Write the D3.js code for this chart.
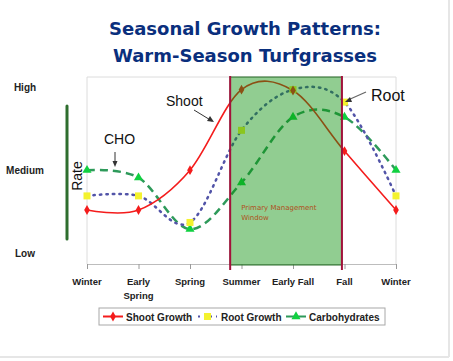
<!DOCTYPE html>
<html>
<head>
<meta charset="utf-8">
<script src="https://cdn.jsdelivr.net/npm/d3@7"></script>
<style>
  body { margin: 0; background: #fff; }
  svg { display: block; }
</style>
</head>
<body>
<svg id="chart" width="453" height="361"></svg>
<script>
// data
const seasons = ["Winter", "Early Spring", "Spring", "Summer", "Early Fall", "Fall", "Winter "];
const shootGrowth = [2.65, 2.65, 5.05, 9.9, 9.85, 6.2, 2.65];
const rootGrowth = [3.5, 3.5, 1.9, 7.45, 9.9, 9.15, 3.5];
const carbohydrates = [5.05, 4.6, 1.5, 4.3, 8.25, 8.25, 5.05];
const rateLabels = [{v: 0, t: "Low"}, {v: 5, t: "Medium"}, {v: 10, t: "High"}];
const windowSpan = [2.78, 4.95]; // in season index units

const svg = d3.select("#chart");

const x = d3.scalePoint().domain(seasons).range([87, 396]);
const xi = d3.scaleLinear().domain([0, seasons.length - 1]).range([87, 396]);
const y = d3.scaleLinear().domain([0, 10]).range([254, 88]);

// page edges
svg.append("line").attr("x1", 449).attr("x2", 449).attr("y1", 0).attr("y2", 357)
  .attr("stroke", "#e6e6e6").attr("stroke-width", 2);
svg.append("line").attr("x1", 0).attr("x2", 449).attr("y1", 357).attr("y2", 357)
  .attr("stroke", "#e6e6e6").attr("stroke-width", 2);

// title
svg.append("text")
  .attr("x", 245).attr("y", 35)
  .attr("text-anchor", "middle")
  .attr("font-family", "DejaVu Sans, Verdana, sans-serif")
  .attr("font-weight", "bold")
  .attr("font-size", 18)
  .attr("fill", "#0a2f7d")
  .text("Seasonal Growth Patterns:");
svg.append("text")
  .attr("x", 245).attr("y", 62)
  .attr("text-anchor", "middle")
  .attr("font-family", "DejaVu Sans, Verdana, sans-serif")
  .attr("font-weight", "bold")
  .attr("font-size", 18)
  .attr("fill", "#0a2f7d")
  .text("Warm-Season Turfgrasses");

// plot frame
svg.append("path")
  .attr("d", `M${x(seasons[0])},264 V77 H${x(seasons[6])} V264`)
  .attr("fill", "none")
  .attr("stroke", "#dcdcdc")
  .attr("stroke-width", 1);

// x axis
const xAxis = svg.append("g")
  .attr("transform", "translate(0,264)")
  .call(d3.axisBottom(x).tickSize(5).tickSizeOuter(0).tickFormat(""));
xAxis.select(".domain").attr("stroke", "#bdbdbd");
xAxis.selectAll(".tick line").attr("stroke", "#9a9a9a");

svg.append("g").selectAll("text")
  .data(seasons)
  .join("text")
  .attr("x", d => x(d))
  .attr("y", 285)
  .attr("text-anchor", "middle")
  .attr("font-family", "Liberation Sans, Arial, sans-serif")
  .attr("font-weight", "bold")
  .attr("font-size", 9.5)
  .attr("fill", "#222")
  .each(function(d) {
    const words = d.trim() === "Early Spring" ? ["Early", "Spring"] : [d.trim()];
    d3.select(this).selectAll("tspan")
      .data(words)
      .join("tspan")
      .attr("x", x(d))
      .attr("dy", (w, i) => i === 0 ? 0 : 13.5)
      .text(w => w);
  });

// y labels
svg.append("g").selectAll("text")
  .data(rateLabels)
  .join("text")
  .attr("x", 25)
  .attr("y", d => y(d.v) + 3)
  .attr("text-anchor", "middle")
  .attr("font-family", "Liberation Sans, Arial, sans-serif")
  .attr("font-weight", "bold")
  .attr("font-size", 10)
  .attr("fill", "#222")
  .text(d => d.t);

// rate bar
svg.append("line")
  .attr("x1", 67).attr("x2", 67).attr("y1", 106).attr("y2", 239)
  .attr("stroke", "#2e6e2e").attr("stroke-width", 3).attr("stroke-linecap", "round");
svg.append("text")
  .attr("transform", "translate(82,176) rotate(-90)")
  .attr("text-anchor", "middle")
  .attr("font-family", "Liberation Sans, Arial, sans-serif")
  .attr("font-size", 14)
  .attr("fill", "#111")
  .text("Rate");

// series
const line = d3.line()
  .x((d, i) => x(seasons[i]))
  .y(d => y(d))
  .curve(d3.curveCardinal.tension(0));

svg.append("path").datum(carbohydrates)
  .attr("d", line).attr("fill", "none")
  .attr("stroke", "#2e9a5a").attr("stroke-width", 2.5)
  .attr("stroke-dasharray", "8 5");
svg.append("path").datum(rootGrowth)
  .attr("d", line).attr("fill", "none")
  .attr("stroke", "#5254a8").attr("stroke-width", 2.5)
  .attr("stroke-dasharray", "1.5 5").attr("stroke-linecap", "round");
svg.append("path").datum(shootGrowth)
  .attr("d", line).attr("fill", "none")
  .attr("stroke", "#f41c1c").attr("stroke-width", 1.6);

const diamond = d3.symbol().type(d3.symbolDiamond).size(28);
const tri = d3.symbol().type(d3.symbolTriangle).size(36);

svg.append("g").selectAll("path")
  .data(carbohydrates)
  .join("path")
  .attr("transform", (d, i) => `translate(${x(seasons[i])},${y(d)})`)
  .attr("d", tri)
  .attr("fill", "#10d040");
svg.append("g").selectAll("rect")
  .data(rootGrowth)
  .join("rect")
  .attr("x", (d, i) => x(seasons[i]) - 3.5)
  .attr("y", d => y(d) - 3.5)
  .attr("width", 7).attr("height", 7)
  .attr("fill", "#f4f22e");
svg.append("g").selectAll("path")
  .data(shootGrowth)
  .join("path")
  .attr("transform", (d, i) => `translate(${x(seasons[i])},${y(d)})`)
  .attr("d", diamond)
  .attr("fill", "#f41c1c");

// management window
svg.append("rect")
  .attr("x", xi(windowSpan[0]))
  .attr("y", 77)
  .attr("width", xi(windowSpan[1]) - xi(windowSpan[0]))
  .attr("height", 188)
  .attr("fill", "rgb(10,145,10)")
  .attr("fill-opacity", 0.45)
  .attr("stroke", "#2f6e2f")
  .attr("stroke-width", 1);
svg.append("g").selectAll("line")
  .data(windowSpan)
  .join("line")
  .attr("x1", d => xi(d)).attr("x2", d => xi(d))
  .attr("y1", 76).attr("y2", 270)
  .attr("stroke", "#a3123c").attr("stroke-width", 2);

svg.append("text")
  .attr("x", xi(windowSpan[0]) + 11)
  .attr("y", 210)
  .attr("font-family", "DejaVu Sans, Verdana, sans-serif")
  .attr("font-size", 7)
  .attr("fill", "#b0501c")
  .selectAll("tspan")
  .data(["Primary Management", "Window"])
  .join("tspan")
  .attr("x", xi(windowSpan[0]) + 11)
  .attr("dy", (d, i) => i === 0 ? 0 : 10)
  .text(d => d);

// annotations
const annFont = "Liberation Sans, Arial, sans-serif";
svg.append("text").attr("x", 166).attr("y", 106)
  .attr("font-family", annFont).attr("font-size", 14).attr("fill", "#111").text("Shoot");
svg.append("line").attr("x1", 194).attr("y1", 110).attr("x2", 212).attr("y2", 121)
  .attr("stroke", "#333").attr("stroke-width", 1);
svg.append("path").attr("d", "M214,122 L207,121 L210,116 Z").attr("fill", "#333");

svg.append("text").attr("x", 104).attr("y", 144)
  .attr("font-family", annFont).attr("font-size", 14).attr("fill", "#111").text("CHO");
svg.append("line").attr("x1", 115).attr("y1", 152).attr("x2", 115).attr("y2", 164)
  .attr("stroke", "#333").attr("stroke-width", 1);
svg.append("path").attr("d", "M115,167 L112.5,161 L117.5,161 Z").attr("fill", "#333");

svg.append("text").attr("x", 371).attr("y", 101)
  .attr("font-family", annFont).attr("font-size", 16).attr("fill", "#111").text("Root");
svg.append("line").attr("x1", 366).attr("y1", 92).attr("x2", 348).attr("y2", 100)
  .attr("stroke", "#666").attr("stroke-width", 1.2);
svg.append("path").attr("d", "M345,102 L350,97 L352,102 Z").attr("fill", "#333");

// legend
const legend = svg.append("g").attr("transform", "translate(99,308)");
legend.append("rect").attr("width", 286).attr("height", 17)
  .attr("fill", "#fff").attr("stroke", "#a8a8a8");
const legendItems = [
  {name: "Shoot Growth", x: 4, tx: 27},
  {name: "Root Growth", x: 98, tx: 122},
  {name: "Carbohydrates", x: 186, tx: 210}
];
const li = legend.selectAll("g.item").data(legendItems).join("g").attr("class", "item")
  .attr("transform", d => `translate(${d.x},8.5)`);
li.append("text")
  .attr("x", d => d.tx - d.x).attr("y", 4)
  .attr("font-family", annFont).attr("font-weight", "bold")
  .attr("font-size", 10).attr("fill", "#222")
  .text(d => d.name);
// shoot sample
legend.append("line").attr("x1", 4).attr("x2", 24).attr("y1", 8.5).attr("y2", 8.5)
  .attr("stroke", "#f41c1c").attr("stroke-width", 2);
legend.append("path").attr("transform", "translate(14,8.5)").attr("d", diamond).attr("fill", "#f41c1c");
// root sample
legend.append("line").attr("x1", 99).attr("x2", 118).attr("y1", 8.5).attr("y2", 8.5)
  .attr("stroke", "#5254a8").attr("stroke-width", 2).attr("stroke-dasharray", "2 4").attr("stroke-dashoffset", 0);
legend.append("rect").attr("x", 105).attr("y", 5).attr("width", 7).attr("height", 7).attr("fill", "#f4f22e");
// cho sample
legend.append("line").attr("x1", 187).attr("x2", 207).attr("y1", 8.5).attr("y2", 8.5)
  .attr("stroke", "#2e9a5a").attr("stroke-width", 2).attr("stroke-dasharray", "9 3");
legend.append("path").attr("transform", "translate(197,8.5)").attr("d", tri).attr("fill", "#10d040");
</script>
</body>
</html>
